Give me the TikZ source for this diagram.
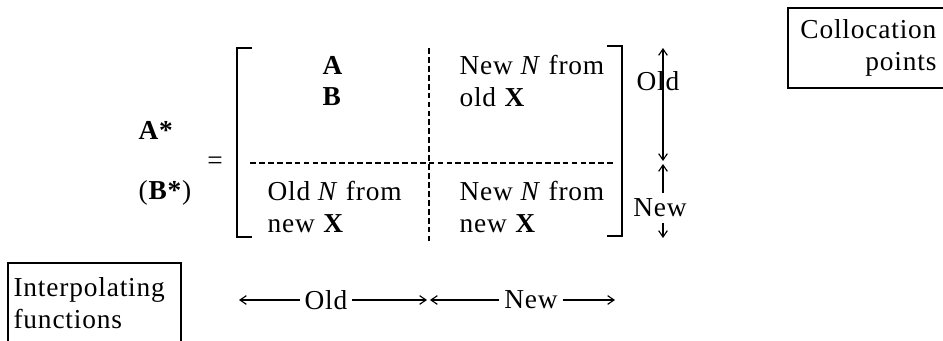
\documentclass[tikz,border=0pt]{standalone}
\usepackage{fontspec}
\setmainfont{Liberation Serif}[LetterSpace=3]
\usetikzlibrary{arrows.meta}
\begin{document}
\begin{tikzpicture}[x=0.347pt,y=-0.347pt,
  txt/.style={font=\fontsize{9.5pt}{11pt}\selectfont, inner sep=0pt},
  cell/.style={txt, align=left, anchor=west},
  brk/.style={line width=0.7pt},
  dsh/.style={line width=0.6pt, dash pattern=on 2pt off 1.1pt},
  arr/.style={line width=0.4pt, -{Straight Barb[length=2.2pt,width=3pt]}},
  dbl/.style={line width=0.4pt, {Straight Barb[length=2.2pt,width=3pt]}-{Straight Barb[length=2.2pt,width=3pt]}},
  frame/.style={line width=0.5pt}]
\useasboundingbox (0,0) rectangle (943,340);
\fill[white] (0,0) rectangle (943,340);
\clip (0,0) rectangle (943,340);
% left labels
\node[txt, anchor=west] (astar) at (138,130) {\textbf{A*}};
\node[txt, anchor=west] (bstar) at (138,193) {(\textbf{B*})};
\node[txt] (eq) at (215,163) {=};
% brackets
\draw[brk] (252,48) -- (237,48) -- (237,237) -- (252,237);
\draw[brk] (607,46) -- (622,46) -- (622,236) -- (607,236);
% dashed partitions
\draw[dsh] (429,48) -- (429,242);
\draw[dsh] (250,163) -- (613,163);
% cells
\node[cell] (c11) at (322,81) {\textbf{A}\\\textbf{B}};
\node[cell] (c12) at (459,81) {New \textit{N} from\\old \textbf{X}};
\node[cell] (c21) at (267,207) {Old \textit{N} from\\new \textbf{X}};
\node[cell] (c22) at (459,207) {New \textit{N} from\\new \textbf{X}};
% right dimension arrows
\coordinate (rT) at (663,48);
\coordinate (rMa) at (663,161);
\coordinate (rMb) at (663,164);
\coordinate (rB) at (663,238);
\draw[dbl] (rT) -- (rMa);
\node[txt] (rOld) at (658,81) {Old};
\node[txt, inner sep=2pt] (rNew) at (660,208) {New};
\draw[arr] (rNew.north -| rMb) -- (rMb);
\draw[arr] (rNew.south -| rB) -- (rB);
% bottom dimension arrows
\coordinate (bL) at (239,300);
\coordinate (bMl) at (427,300);
\coordinate (bMr) at (430,300);
\coordinate (bR) at (615,300);
\node[txt, inner sep=1.5pt] (bOld) at (326,300) {Old};
\node[txt, inner sep=1.5pt] (bNew) at (531,300) {New};
\draw[arr] (bOld.west) -- (bL);
\draw[arr] (bOld.east) -- (bMl);
\draw[arr] (bNew.west) -- (bMr);
\draw[arr] (bNew.east) -- (bR);
% boxes
\node[txt, align=left, anchor=west] (interp) at (13,303) {Interpolating\\functions};
\draw[frame] (8,350) |- (181,263) -- (181,350);
\node[txt, align=right, anchor=east] (coll) at (937,48) {Collocation\\points};
\draw[frame] (950,8) -| (788,88) -- (950,88);
\end{tikzpicture}
\end{document}
